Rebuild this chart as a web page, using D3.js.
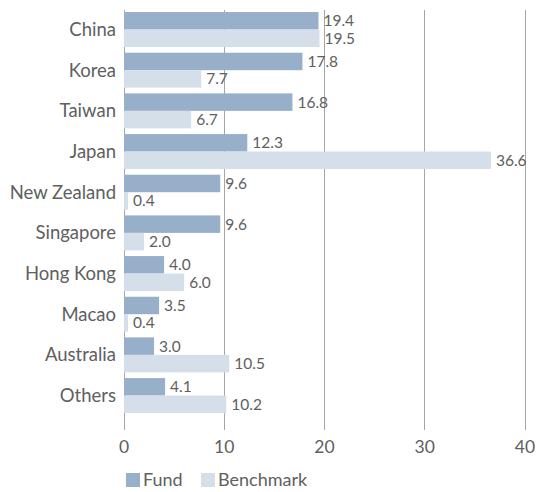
<!DOCTYPE html>
<html><head><meta charset="utf-8">
<script src="https://cdn.jsdelivr.net/npm/d3@7"></script>
<style>body{margin:0;background:#fff;} text{font-family:Lato, "Open Sans", sans-serif;}</style>
</head><body>
<svg id="c" width="537" height="492"></svg>
<script>
const categories = ["China","Korea","Taiwan","Japan","New Zealand","Singapore","Hong Kong","Macao","Australia","Others"];
const fund = [19.4,17.8,16.8,12.3,9.6,9.6,4.0,3.5,3.0,4.1];
const benchmark = [19.5,7.7,6.7,36.6,0.4,2.0,6.0,0.4,10.5,10.2];
const xTicks = [0,10,20,30,40];
const seriesNames = ["Fund","Benchmark"];
const colors = ["#98afca","#d5dfea"];

const svg = d3.select("#c");
const x = d3.scaleLinear().domain([0,40]).range([124,525]);
const y = d3.scaleBand().domain(categories).range([9.2,415.9]).paddingInner(0.14).paddingOuter(0.07);
const sub = d3.scaleBand().domain(seriesNames).range([0,y.bandwidth()]).padding(0);

svg.append("g").selectAll("line").data(xTicks).join("line")
  .attr("x1",d=>x(d)).attr("x2",d=>x(d)).attr("y1",9.5).attr("y2",430)
  .attr("stroke","#a6a6a6").attr("stroke-width",1).attr("shape-rendering","crispEdges");

const data = [];
categories.forEach((c,i)=>{
  data.push({c, s:"Fund", v:fund[i]});
  data.push({c, s:"Benchmark", v:benchmark[i]});
});

svg.append("g").selectAll("rect").data(data).join("rect")
  .attr("x",x(0)).attr("y",d=>y(d.c)+sub(d.s))
  .attr("width",d=>x(d.v)-x(0)).attr("height",sub.bandwidth())
  .attr("fill",d=>colors[seriesNames.indexOf(d.s)]);

svg.append("g").selectAll("text").data(data).join("text")
  .attr("x",d=>x(d.v)+5).attr("y",d=>y(d.c)+sub(d.s)+sub.bandwidth()/2)
  .attr("dy","0.35em").attr("font-size",15.5).attr("fill","#606060")
  .text(d=>d.v.toFixed(1));

svg.append("g").selectAll("text").data(categories).join("text")
  .attr("x",116).attr("y",d=>y(d)+y.bandwidth()/2).attr("dy","0.35em")
  .attr("text-anchor","end").attr("font-size",18.5).attr("fill","#606060").text(d=>d);

svg.append("g").selectAll("text").data(xTicks).join("text")
  .attr("x",d=>x(d)).attr("y",447).attr("dy","0.35em").attr("text-anchor","middle")
  .attr("font-size",17.5).attr("fill","#606060").text(d=>d);

const lx = [126,201];
const lg = svg.append("g").selectAll("g").data(seriesNames).join("g")
  .attr("transform",(d,i)=>`translate(${lx[i]},473)`);
lg.append("rect").attr("width",14).attr("height",14).attr("fill",(d,i)=>colors[i]);
lg.append("text").attr("x",17).attr("y",7).attr("dy","0.35em").attr("font-size",18)
  .attr("fill","#606060").text(d=>d);
</script>
</body></html>
